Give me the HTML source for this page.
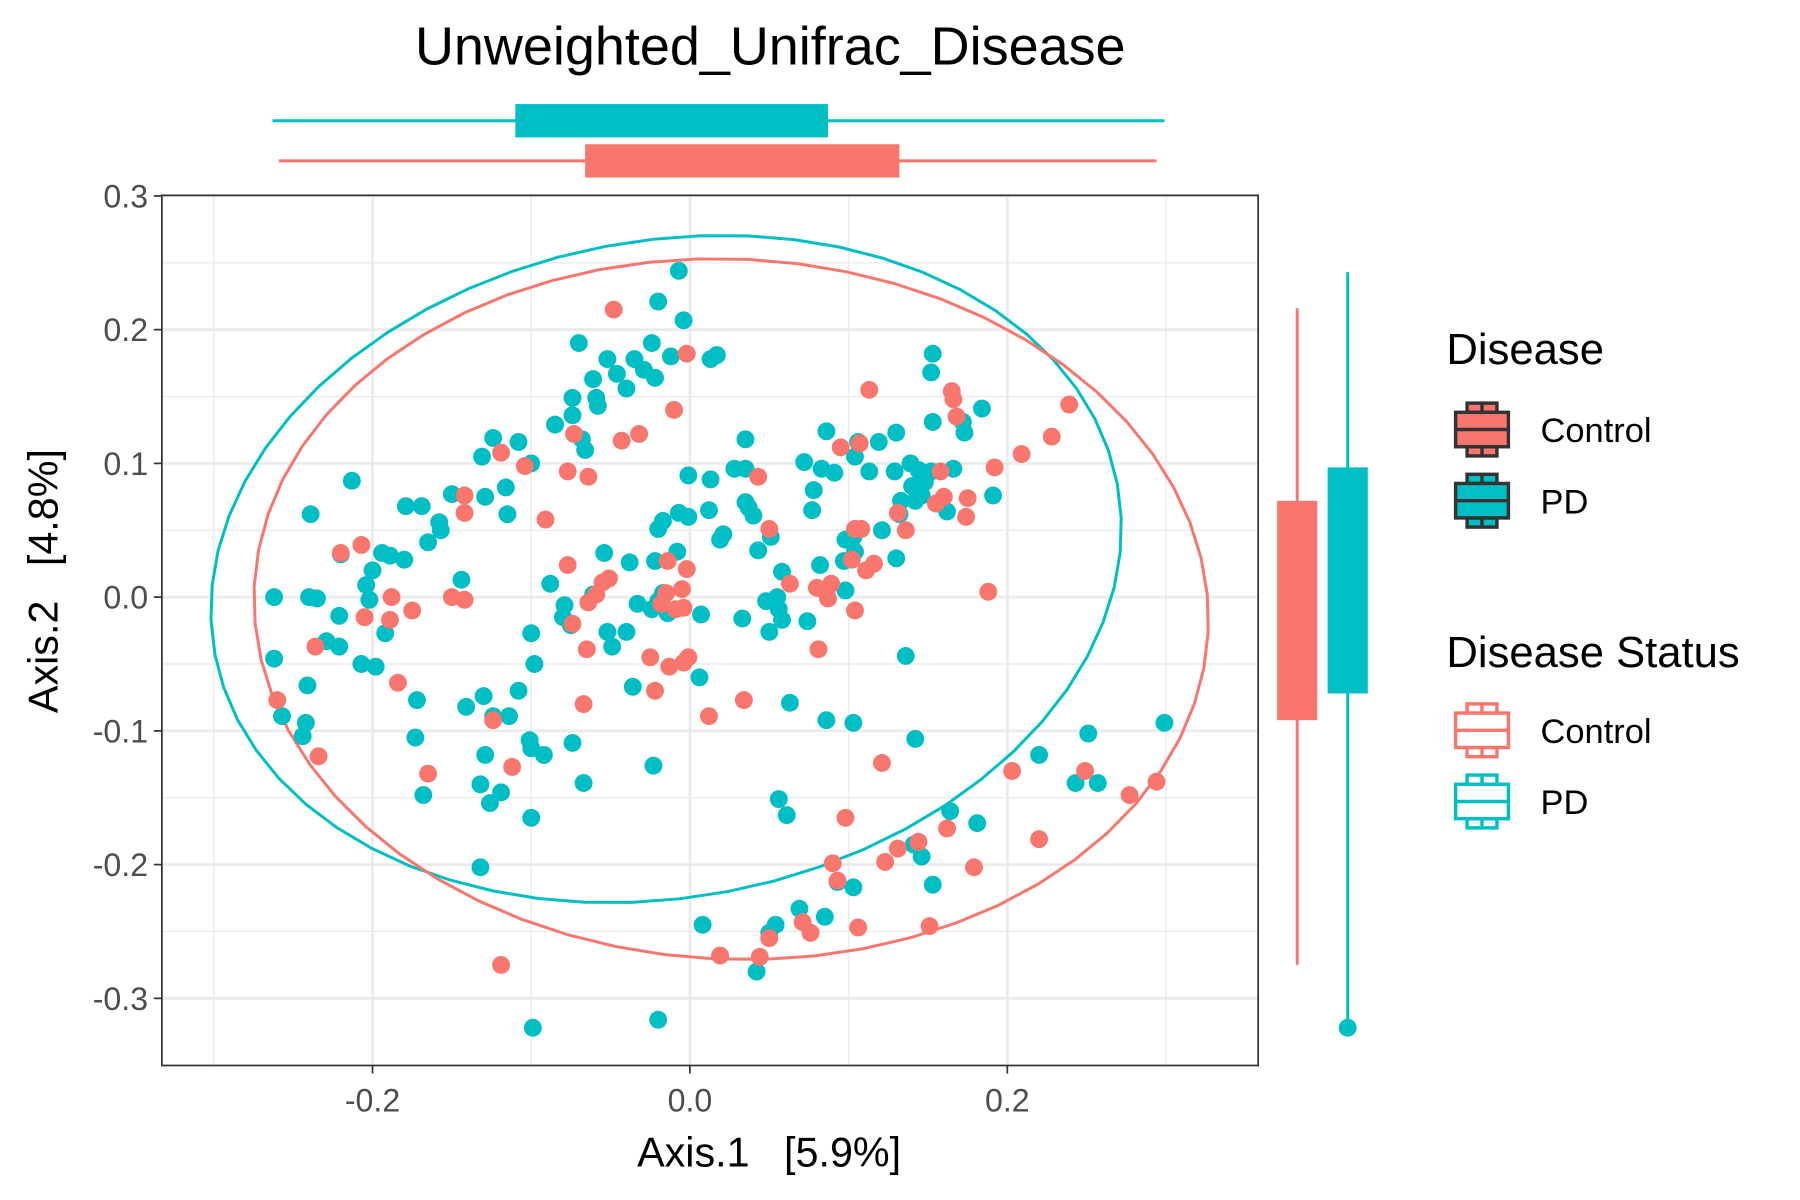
<!DOCTYPE html>
<html><head><meta charset="utf-8"><style>
html,body{margin:0;padding:0;background:#fff;}
svg{display:block;font-family:"Liberation Sans",Arial,sans-serif;}
</style></head><body>
<svg id="chart" width="1800" height="1200" viewBox="0 0 1568 1045" xmlns="http://www.w3.org/2000/svg">
<rect x="0" y="0" width="1568" height="1045" fill="#fff"/>
<text x="671" y="56" font-size="47" text-anchor="middle" fill="#000">Unweighted_Unifrac_Disease</text>
<g id="grid"></g>
<g id="ellipses"></g>
<g id="points"></g>
<rect x="141" y="170" width="955" height="758" fill="none" stroke="#333" stroke-width="1.5"/>
<g id="axes"></g>
<g id="margins"></g>
<text x="670" y="1016" font-size="36" text-anchor="middle" fill="#000">Axis.1&#160;&#160;&#160;[5.9%]</text>
<text transform="translate(50,506) rotate(-90)" font-size="36" text-anchor="middle" fill="#000">Axis.2&#160;&#160;&#160;[4.8%]</text>
<g id="legend">
<text x="1260" y="317" font-size="38" fill="#000">Disease</text>
<text x="1342" y="385" font-size="30" fill="#000">Control</text>
<text x="1342" y="447" font-size="30" fill="#000">PD</text>
<text x="1260" y="581" font-size="38" fill="#000">Disease Status</text>
<text x="1342" y="647" font-size="30" fill="#000">Control</text>
<text x="1342" y="709" font-size="30" fill="#000">PD</text>
</g>
</svg>
<script>
const pdX=[-0.007,-0.020,-0.004,-0.070,-0.052,-0.035,-0.024,-0.029,-0.046,-0.061,-0.012,-0.022,-0.040,-0.074,-0.059,-0.058,-0.074,-0.085,-0.068,-0.066,0.013,0.017,0.153,0.152,0.184,0.153,0.172,0.173,0.086,0.106,0.119,0.130,0.035,0.072,0.083,0.091,0.113,0.104,0.129,0.139,0.144,0.152,0.166,0.140,0.148,0.142,0.146,0.191,0.162,0.078,0.077,0.133,0.132,0.121,0.098,0.103,0.097,0.104,0.130,0.098,0.082,0.028,0.035,0.013,-0.001,0.035,0.037,0.040,0.012,-0.007,-0.017,-0.020,-0.001,0.021,0.019,0.043,0.051,-0.008,0.058,0.048,0.055,0.056,0.050,0.058,0.074,0.033,0.007,-0.017,-0.020,-0.024,-0.014,-0.038,-0.022,-0.054,-0.061,-0.033,-0.052,-0.049,-0.040,-0.079,-0.075,-0.080,-0.088,0.006,-0.036,0.063,0.086,0.103,0.136,0.142,-0.023,-0.067,-0.074,-0.092,-0.100,-0.098,-0.108,-0.114,-0.101,-0.100,-0.100,-0.119,-0.126,-0.132,-0.129,-0.130,-0.141,-0.124,-0.132,-0.168,-0.173,-0.172,-0.198,-0.207,-0.192,-0.221,-0.229,-0.257,-0.242,-0.244,-0.262,-0.262,-0.241,-0.239,-0.213,-0.220,-0.204,-0.200,-0.202,-0.194,-0.189,-0.180,-0.165,-0.179,-0.169,-0.158,-0.157,-0.150,-0.144,-0.131,-0.124,-0.116,-0.108,-0.129,-0.115,-0.100,-0.221,-0.240,-0.235,0.008,0.054,0.050,0.069,0.085,0.042,0.103,0.093,0.153,0.146,0.141,0.164,0.181,0.220,0.251,0.243,0.257,0.299,-0.099,-0.020,0.056,0.061];
const pdY=[0.244,0.221,0.207,0.190,0.178,0.178,0.190,0.170,0.167,0.163,0.180,0.164,0.156,0.149,0.149,0.143,0.136,0.129,0.118,0.110,0.178,0.181,0.182,0.168,0.141,0.131,0.131,0.123,0.124,0.116,0.116,0.123,0.118,0.101,0.096,0.093,0.094,0.105,0.094,0.100,0.095,0.094,0.096,0.083,0.086,0.072,0.076,0.076,0.064,0.080,0.065,0.072,0.062,0.050,0.043,0.045,0.027,0.034,0.029,0.005,0.024,0.096,0.096,0.088,0.091,0.071,0.067,0.061,0.065,0.063,0.057,0.051,0.060,0.047,0.043,0.035,0.045,0.034,0.019,-0.003,0.000,-0.009,-0.026,-0.017,-0.018,-0.016,-0.013,0.003,-0.003,-0.009,-0.012,0.026,0.027,0.033,0.002,-0.005,-0.026,-0.037,-0.026,-0.006,-0.021,-0.015,0.010,-0.060,-0.067,-0.079,-0.092,-0.094,-0.044,-0.106,-0.126,-0.139,-0.109,-0.118,-0.027,-0.050,-0.070,-0.089,-0.107,-0.113,-0.165,-0.146,-0.154,-0.140,-0.118,-0.074,-0.082,-0.089,-0.202,-0.148,-0.105,-0.077,-0.052,-0.050,-0.027,-0.037,-0.033,-0.089,-0.094,-0.104,-0.046,0.000,-0.066,0.062,0.087,0.032,0.009,0.020,-0.002,0.033,0.031,0.028,0.041,0.068,0.068,0.056,0.050,0.077,0.013,0.105,0.119,0.082,0.116,0.075,0.062,0.100,-0.014,0.000,-0.001,-0.245,-0.245,-0.251,-0.233,-0.239,-0.280,-0.217,-0.213,-0.215,-0.194,-0.185,-0.160,-0.169,-0.118,-0.102,-0.139,-0.139,-0.094,-0.322,-0.316,-0.151,-0.163];
const ctX=[-0.048,-0.002,-0.010,0.113,0.165,0.166,0.168,0.239,0.228,0.209,0.192,-0.073,-0.043,-0.032,-0.119,-0.104,-0.077,-0.064,0.043,0.095,0.107,0.158,-0.142,-0.142,-0.091,0.175,0.160,0.155,0.174,0.131,0.136,0.104,0.108,0.102,0.111,0.116,0.050,0.063,0.080,0.086,0.087,0.089,0.104,0.081,0.188,-0.014,-0.002,-0.005,-0.015,-0.018,-0.009,-0.004,-0.051,-0.077,-0.055,-0.059,-0.064,-0.074,-0.065,-0.025,-0.013,-0.004,-0.001,-0.022,0.012,0.034,-0.067,-0.150,-0.142,-0.175,-0.188,-0.189,-0.205,-0.207,-0.220,-0.236,-0.184,-0.234,-0.260,-0.165,-0.124,-0.112,0.121,0.098,0.090,0.093,0.123,0.131,0.144,0.162,0.179,0.220,0.203,0.249,0.277,0.294,0.106,0.071,0.076,0.050,0.019,0.044,0.151,-0.119];
const ctY=[0.215,0.182,0.140,0.155,0.154,0.148,0.135,0.144,0.120,0.107,0.097,0.122,0.117,0.122,0.108,0.098,0.094,0.090,0.090,0.112,0.115,0.094,0.076,0.063,0.058,0.074,0.075,0.070,0.060,0.063,0.050,0.051,0.051,0.028,0.020,0.025,0.051,0.010,0.007,0.003,-0.001,0.010,-0.010,-0.039,0.004,0.027,0.021,0.006,0.003,-0.005,-0.009,-0.008,0.014,0.024,0.011,0.002,-0.004,-0.020,-0.039,-0.045,-0.052,-0.049,-0.045,-0.070,-0.089,-0.077,-0.080,0.000,-0.002,-0.010,0.000,-0.017,-0.015,0.039,0.033,-0.037,-0.064,-0.119,-0.077,-0.132,-0.092,-0.127,-0.124,-0.165,-0.199,-0.212,-0.198,-0.188,-0.183,-0.173,-0.202,-0.181,-0.130,-0.130,-0.148,-0.138,-0.247,-0.243,-0.251,-0.255,-0.268,-0.269,-0.246,-0.275];
const xTicks=[-0.2,0.0,0.2];
const xTickLabels=["-0.2","0.0","0.2"];
const yTicks=[0.3,0.2,0.1,0.0,-0.1,-0.2,-0.3];
const yTickLabels=["0.3","0.2","0.1","0.0","-0.1","-0.2","-0.3"];
// boxplot stats: [whiskerLow, q1, median, q3, whiskerHigh]
const pdBoxX=[-0.263,-0.110,-0.010,0.087,0.299];
const ctBoxX=[-0.259,-0.066,0.035,0.132,0.294];
const pdBoxY=[-0.316,-0.072,0.010,0.097,0.243];
const ctBoxY=[-0.275,-0.092,-0.010,0.072,0.216];
const pdOutY=[-0.322];
const pdEllipseCenter=[-0.015,0.021];
const ctEllipseCenter=[0.026,-0.009];

const NS="http://www.w3.org/2000/svg";
const X0=601,XS=1382.5,Y0=520,YS=1165;
const L=141,R=1096,T=170,B=928;
function sx(v){return X0+v*XS;}
function sy(v){return Y0-v*YS;}
function mk(tag,attrs,parent){const e=document.createElementNS(NS,tag);for(const k in attrs)e.setAttribute(k,attrs[k]);parent.appendChild(e);return e;}
const RED="#F8766D",TEAL="#00BFC4";
const grid=document.getElementById('grid');
for(let v=-0.3;v<=0.351;v+=0.1){const x=sx(v);if(x>L&&x<R){const l=mk('line',{x1:x,x2:x,y1:T,y2:B,stroke:'#EBEBEB','stroke-width':Math.abs(Math.round(v*10))%2===0?2.4:1.2},grid);}}
for(let v=-0.35;v<=0.301;v+=0.05){const y=sy(v);if(y>T&&y<B){const major=Math.abs(Math.round(v*100))%10===0;const l=mk('line',{x1:L,x2:R,y1:y,y2:y,stroke:'#EBEBEB','stroke-width':major?2.4:1.2},grid);}}
const ell=document.getElementById('ellipses');
function ellipse(c,a,b,th,col,name){let pts=[];const t0=th*Math.PI/180;for(let i=0;i<=60;i++){const t=i/60*2*Math.PI;const dx=a*Math.cos(t0)*Math.cos(t)-b*Math.sin(t0)*Math.sin(t);const dy=a*Math.sin(t0)*Math.cos(t)+b*Math.cos(t0)*Math.sin(t);pts.push((sx(c[0])+dx).toFixed(1)+','+(sy(c[1])-dy).toFixed(1));}
const p=mk('polyline',{points:pts.join(' '),fill:'none',stroke:col,'stroke-width':2.6},ell);

}
ellipse(pdEllipseCenter,400,286,10.7,TEAL,'pd-ellipse');
ellipse(ctEllipseCenter,416,305,-2.7,RED,'control-ellipse');
const pg=document.getElementById('points');
pdX.forEach((v,i)=>{const c=mk('circle',{cx:sx(v),cy:sy(pdY[i]),r:7.8,fill:TEAL},pg);

});
ctX.forEach((v,i)=>{const c=mk('circle',{cx:sx(v),cy:sy(ctY[i]),r:7.8,fill:RED},pg);

});
const ax=document.getElementById('axes');
xTicks.forEach((v,i)=>{const x=sx(v);mk('line',{x1:x,x2:x,y1:B,y2:B+7,stroke:'#333','stroke-width':1.5},ax);const t=mk('text',{x:x,y:B+40,'font-size':28,'text-anchor':'middle',fill:'#4D4D4D'},ax);t.textContent=xTickLabels[i];

});
yTicks.forEach((v,i)=>{const y=sy(v);mk('line',{x1:L-7,x2:L,y1:y,y2:y,stroke:'#333','stroke-width':1.5},ax);const t=mk('text',{x:L-12,y:y+10,'font-size':28,'text-anchor':'end',fill:'#4D4D4D'},ax);t.textContent=yTickLabels[i];

});
const mg=document.getElementById('margins');
function hbox(s,yc,col,name){const g=mk('g',{},mg);
mk('line',{x1:sx(s[0]),x2:sx(s[4]),y1:yc,y2:yc,stroke:col,'stroke-width':2.6},g);
mk('rect',{x:sx(s[1]),y:yc-14.5,width:sx(s[3])-sx(s[1]),height:29,fill:col},g);}
hbox(pdBoxX,105,TEAL,'top-boxplot-pd');
hbox(ctBoxX,140,RED,'top-boxplot-control');
function vbox(s,xc,col,name,out){const g=mk('g',{},mg);
mk('line',{x1:xc,x2:xc,y1:sy(s[0]),y2:sy(s[4]),stroke:col,'stroke-width':2.6},g);
mk('rect',{x:xc-17.5,y:sy(s[3]),width:35,height:sy(s[1])-sy(s[3]),fill:col},g);
(out||[]).forEach(o=>{mk('circle',{cx:xc,cy:sy(o),r:7.8,fill:col},g);});}
vbox(ctBoxY,1130,RED,'right-boxplot-control');
vbox(pdBoxY,1174,TEAL,'right-boxplot-pd',pdOutY);
const lg=document.getElementById('legend');
function key(y,fill,stroke,name){const g=mk('g',{},lg);
mk('rect',{x:1278,y:y-23,width:26,height:8,fill:fill,stroke:stroke,'stroke-width':3},g);
mk('rect',{x:1278,y:y+15,width:26,height:8,fill:fill,stroke:stroke,'stroke-width':3},g);
mk('line',{x1:1291,x2:1291,y1:y-23,y2:y+23,stroke:stroke,'stroke-width':3},g);
mk('rect',{x:1268,y:y-15,width:46,height:30,fill:fill,stroke:stroke,'stroke-width':3},g);
mk('line',{x1:1268,x2:1314,y1:y,y2:y,stroke:stroke,'stroke-width':3},g);}
key(374,RED,'#333','legend-key-control');
key(436,TEAL,'#333','legend-key-pd');
key(636,'#fff',RED,'legend-key-status-control');
key(698,'#fff',TEAL,'legend-key-status-pd');
</script>
</body></html>
